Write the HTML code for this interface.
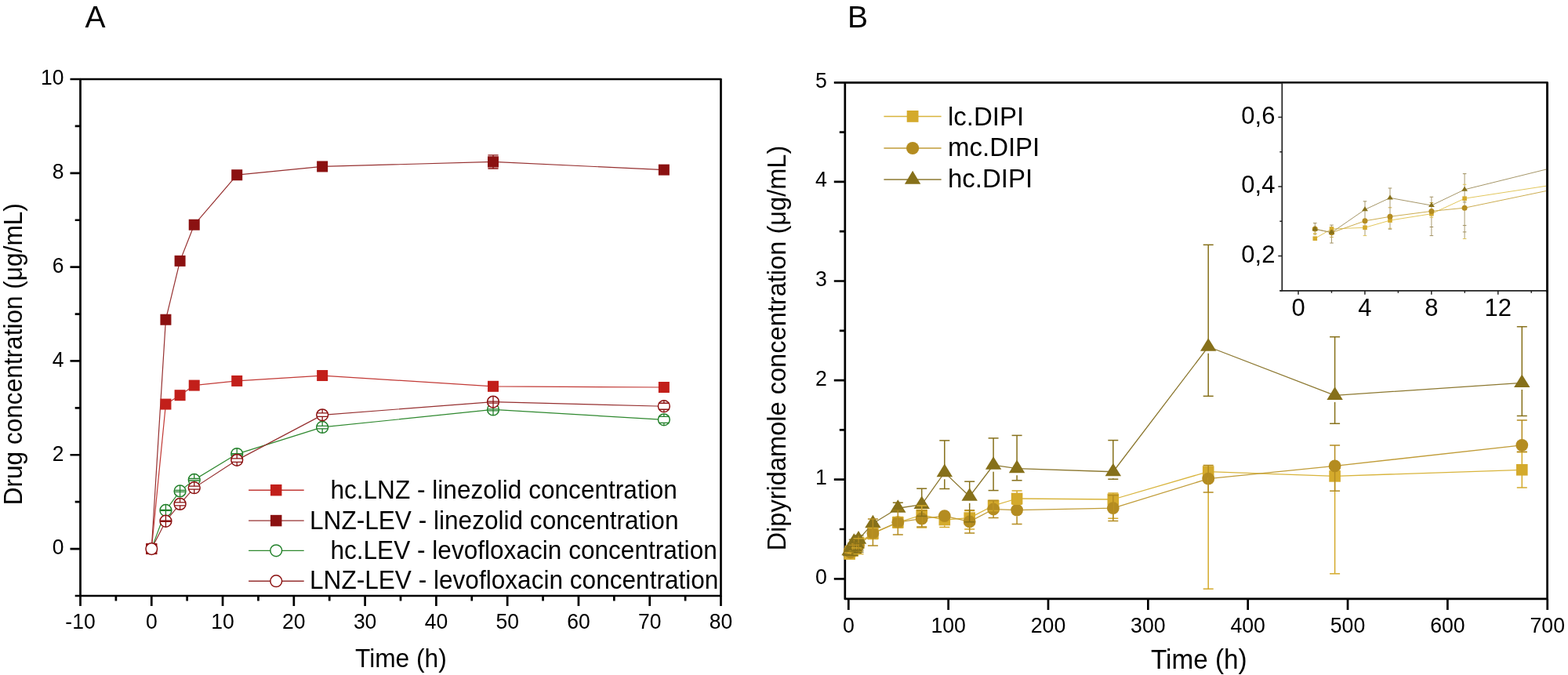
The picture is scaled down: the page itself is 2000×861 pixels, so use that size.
<!DOCTYPE html>
<html><head><meta charset="utf-8"><title>Drug concentration charts</title>
<style>
html,body{margin:0;padding:0;background:#fff;}
body{width:2000px;height:861px;overflow:hidden;}
svg{display:block;}
text{font-family:"Liberation Sans",Arial,Helvetica,sans-serif;fill:#000;}
</style></head><body>
<svg width="2000" height="861" viewBox="0 0 2000 861">
<rect width="2000" height="861" fill="#fff"/>
<path d="M102.5 760V773M147.89 760V766.5M193.28 760V773M238.67 760V766.5M284.06 760V773M329.44 760V766.5M374.83 760V773M420.22 760V766.5M465.61 760V773M511 760V766.5M556.39 760V773M601.78 760V766.5M647.17 760V773M692.56 760V766.5M737.94 760V773M783.33 760V766.5M828.72 760V773M874.11 760V766.5M919.5 760V773M102.5 760H95.7M102.5 700.09H89.5M102.5 640.18H95.7M102.5 580.27H89.5M102.5 520.36H95.7M102.5 460.45H89.5M102.5 400.55H95.7M102.5 340.64H89.5M102.5 280.73H95.7M102.5 220.82H89.5M102.5 160.91H95.7M102.5 101H89.5" stroke="#000" stroke-width="2.7" fill="none"/>
<rect x="102.5" y="101" width="817" height="659" fill="none" stroke="#000" stroke-linejoin="round" stroke-width="2.7"/>
<text transform="translate(102.5 801.5) scale(1 1.03)" font-size="26.5" text-anchor="middle">-10</text>
<text transform="translate(193.28 801.5) scale(1 1.03)" font-size="26.5" text-anchor="middle">0</text>
<text transform="translate(284.06 801.5) scale(1 1.03)" font-size="26.5" text-anchor="middle">10</text>
<text transform="translate(374.83 801.5) scale(1 1.03)" font-size="26.5" text-anchor="middle">20</text>
<text transform="translate(465.61 801.5) scale(1 1.03)" font-size="26.5" text-anchor="middle">30</text>
<text transform="translate(556.39 801.5) scale(1 1.03)" font-size="26.5" text-anchor="middle">40</text>
<text transform="translate(647.17 801.5) scale(1 1.03)" font-size="26.5" text-anchor="middle">50</text>
<text transform="translate(737.94 801.5) scale(1 1.03)" font-size="26.5" text-anchor="middle">60</text>
<text transform="translate(828.72 801.5) scale(1 1.03)" font-size="26.5" text-anchor="middle">70</text>
<text transform="translate(919.5 801.5) scale(1 1.03)" font-size="26.5" text-anchor="middle">80</text>
<text transform="translate(81.4 707.39) scale(1 1.03)" font-size="26.5" text-anchor="end">0</text>
<text transform="translate(81.4 587.57) scale(1 1.03)" font-size="26.5" text-anchor="end">2</text>
<text transform="translate(81.4 467.75) scale(1 1.03)" font-size="26.5" text-anchor="end">4</text>
<text transform="translate(81.4 347.94) scale(1 1.03)" font-size="26.5" text-anchor="end">6</text>
<text transform="translate(81.4 228.12) scale(1 1.03)" font-size="26.5" text-anchor="end">8</text>
<text transform="translate(81.4 108.3) scale(1 1.03)" font-size="26.5" text-anchor="end">10</text>
<text transform="translate(453 851.4) scale(1 1.03)" font-size="31.7">Time (h)</text>
<text transform="translate(27.9 644.3) rotate(-90) scale(1 1.03)" font-size="31.6">Drug concentration (μg/mL)</text>
<text transform="translate(108.5 34.8) scale(1 1.0)" font-size="39">A</text>
<polyline points="193.28,700.09 211.43,515.57 229.59,504.19 247.74,491.61 302.21,485.92 411.14,479.03 629.01,492.81 846.88,494" fill="none" stroke="#c23a36" stroke-width="1.2" stroke-linejoin="round"/>
<polyline points="193.28,700.09 211.43,407.73 229.59,332.85 247.74,286.72 302.21,223.21 411.14,212.43 629.01,206.44 846.88,216.62" fill="none" stroke="#963030" stroke-width="1.2" stroke-linejoin="round"/>
<polyline points="193.28,700.09 211.43,650.97 229.59,626.4 247.74,612.02 302.21,579.07 411.14,544.93 629.01,522.46 846.88,535.34" fill="none" stroke="#2e882e" stroke-width="1.2" stroke-linejoin="round"/>
<polyline points="193.28,700.09 211.43,664.74 229.59,642.88 247.74,622.21 302.21,586.86 411.14,529.35 629.01,512.58 846.88,518.27" fill="none" stroke="#963030" stroke-width="1.2" stroke-linejoin="round"/>
<rect x="186.28" y="693.09" width="14" height="14" fill="#c21f1a"/>
<rect x="204.43" y="508.57" width="14" height="14" fill="#c21f1a"/>
<rect x="222.59" y="497.19" width="14" height="14" fill="#c21f1a"/>
<rect x="240.74" y="484.61" width="14" height="14" fill="#c21f1a"/>
<rect x="295.21" y="478.92" width="14" height="14" fill="#c21f1a"/>
<rect x="404.14" y="472.03" width="14" height="14" fill="#c21f1a"/>
<rect x="622.01" y="485.81" width="14" height="14" fill="#c21f1a"/>
<rect x="839.88" y="487" width="14" height="14" fill="#c21f1a"/>
<rect x="186.28" y="693.09" width="14" height="14" fill="#8b1111"/>
<rect x="204.43" y="400.73" width="14" height="14" fill="#8b1111"/>
<rect x="222.59" y="325.85" width="14" height="14" fill="#8b1111"/>
<rect x="240.74" y="279.72" width="14" height="14" fill="#8b1111"/>
<rect x="295.21" y="216.21" width="14" height="14" fill="#8b1111"/>
<rect x="404.14" y="205.43" width="14" height="14" fill="#8b1111"/>
<rect x="622.01" y="199.44" width="14" height="14" fill="#8b1111"/>
<rect x="839.88" y="209.62" width="14" height="14" fill="#8b1111"/>
<path d="M629.01 197.84V215.04M622.41 197.84H635.61M622.41 215.04H635.61" stroke="#8b1111" stroke-width="1.4" fill="none"/>
<rect x="622.26" y="199.69" width="13.5" height="13.5" fill="#8b1111"/>
<circle cx="211.43" cy="650.97" r="7.4" fill="#fff" stroke="#22802a" stroke-width="1.5"/><path d="M211.43 643.57V658.37M204.43 650.47H218.43M204.43 651.47H218.43" stroke="#22802a" stroke-width="1.3" fill="none"/>
<circle cx="229.59" cy="626.4" r="7.4" fill="#fff" stroke="#22802a" stroke-width="1.5"/><path d="M229.59 619V633.8M222.59 625.4H236.59M222.59 627.4H236.59" stroke="#22802a" stroke-width="1.3" fill="none"/>
<circle cx="247.74" cy="612.02" r="7.4" fill="#fff" stroke="#22802a" stroke-width="1.5"/><path d="M247.74 604.62V610.52M247.74 613.02V619.42M240.74 610.52H254.74M240.74 613.02H254.74" stroke="#22802a" stroke-width="1.3" fill="none"/>
<circle cx="302.21" cy="579.07" r="7.4" fill="#fff" stroke="#22802a" stroke-width="1.5"/><path d="M302.21 571.67V586.47M295.21 578.57H309.21M295.21 580.07H309.21" stroke="#22802a" stroke-width="1.3" fill="none"/>
<circle cx="411.14" cy="544.93" r="7.4" fill="#fff" stroke="#22802a" stroke-width="1.5"/><path d="M411.14 537.53V543.43M411.14 546.93V552.33M404.14 543.43H418.14M404.14 546.93H418.14" stroke="#22802a" stroke-width="1.3" fill="none"/>
<circle cx="629.01" cy="522.46" r="7.4" fill="#fff" stroke="#22802a" stroke-width="1.5"/><path d="M629.01 515.06V529.86M622.01 521.96H636.01M622.01 523.96H636.01" stroke="#22802a" stroke-width="1.3" fill="none"/>
<circle cx="846.88" cy="535.34" r="7.4" fill="#fff" stroke="#22802a" stroke-width="1.5"/><path d="M846.88 527.94V531.34M846.88 539.34V542.74M839.88 531.34H853.88M839.88 539.34H853.88" stroke="#22802a" stroke-width="1.3" fill="none"/>
<circle cx="193.28" cy="700.09" r="7.3" fill="#fff" stroke="#8b1111" stroke-width="1.5"/>
<circle cx="211.43" cy="664.74" r="7.4" fill="#fff" stroke="#8b1111" stroke-width="1.5"/><path d="M211.43 657.34V672.14M204.43 664.24H218.43M204.43 665.24H218.43" stroke="#8b1111" stroke-width="1.3" fill="none"/>
<circle cx="229.59" cy="642.88" r="7.4" fill="#fff" stroke="#8b1111" stroke-width="1.5"/><path d="M229.59 635.48V640.88M229.59 644.88V650.28M222.59 640.88H236.59M222.59 644.88H236.59" stroke="#8b1111" stroke-width="1.3" fill="none"/>
<circle cx="247.74" cy="622.21" r="7.4" fill="#fff" stroke="#8b1111" stroke-width="1.5"/><path d="M247.74 614.81V620.21M247.74 624.21V629.61M240.74 620.21H254.74M240.74 624.21H254.74" stroke="#8b1111" stroke-width="1.3" fill="none"/>
<circle cx="302.21" cy="586.86" r="7.4" fill="#fff" stroke="#8b1111" stroke-width="1.5"/><path d="M302.21 579.46V584.86M302.21 589.36V594.26M295.21 584.86H309.21M295.21 589.36H309.21" stroke="#8b1111" stroke-width="1.3" fill="none"/>
<circle cx="411.14" cy="529.35" r="7.4" fill="#fff" stroke="#8b1111" stroke-width="1.5"/><path d="M411.14 521.95V526.85M411.14 531.35V536.75M404.14 526.85H418.14M404.14 531.35H418.14" stroke="#8b1111" stroke-width="1.3" fill="none"/>
<circle cx="629.01" cy="512.58" r="7.4" fill="#fff" stroke="#8b1111" stroke-width="1.5"/><path d="M629.01 505.18V519.98M622.01 512.08H636.01M622.01 514.08H636.01" stroke="#8b1111" stroke-width="1.3" fill="none"/>
<circle cx="846.88" cy="518.27" r="7.4" fill="#fff" stroke="#8b1111" stroke-width="1.5"/><path d="M846.88 510.87V514.27M846.88 522.27V525.67M839.88 514.27H853.88M839.88 522.27H853.88" stroke="#8b1111" stroke-width="1.3" fill="none"/>
<path d="M317.1 625.2H387.7" stroke="#c23a36" stroke-width="1.35"/>
<path d="M317.1 664.1H387.7" stroke="#963030" stroke-width="1.35"/>
<path d="M317.1 702.3H387.7" stroke="#2e882e" stroke-width="1.35"/>
<path d="M317.1 741.2H387.7" stroke="#963030" stroke-width="1.35"/>
<rect x="344.95" y="617.95" width="14.5" height="14.5" fill="#c21f1a"/>
<rect x="344.95" y="656.85" width="14.5" height="14.5" fill="#8b1111"/>
<circle cx="352.2" cy="702.3" r="7.4" fill="#fff" stroke="#22802a" stroke-width="1.5"/>
<circle cx="352.2" cy="741.2" r="7.4" fill="#fff" stroke="#8b1111" stroke-width="1.5"/>
<text transform="translate(421.42 635.8) scale(1 1.03)" font-size="31.6">hc.LNZ - linezolid concentration</text>
<text transform="translate(395.01 674.5) scale(1 1.03)" font-size="31.6">LNZ-LEV - linezolid concentration</text>
<text transform="translate(421.42 712.9) scale(1 1.03)" font-size="31.6">hc.LEV - levofloxacin concentration</text>
<text transform="translate(395.01 751.4) scale(1 1.03)" font-size="31.6">LNZ-LEV - levofloxacin concentration</text>
<path d="M1082.3 763.9V777.9M1209.65 763.9V777.9M1337 763.9V777.9M1464.35 763.9V777.9M1591.7 763.9V777.9M1719.05 763.9V777.9M1846.4 763.9V777.9M1973.75 763.9V777.9M1077.8 738.3H1063.8M1077.8 675H1070.8M1077.8 611.7H1063.8M1077.8 548.4H1070.8M1077.8 485.1H1063.8M1077.8 421.8H1070.8M1077.8 358.5H1063.8M1077.8 295.2H1070.8M1077.8 231.9H1063.8M1077.8 168.6H1070.8M1077.8 105.3H1063.8" stroke="#000" stroke-width="2.7" fill="none"/>
<rect x="1077.8" y="105.3" width="895.8" height="658.6" fill="none" stroke="#000" stroke-linejoin="round" stroke-width="2.7"/>
<text transform="translate(1082.3 807.2) scale(1 1.03)" font-size="26.7" text-anchor="middle">0</text>
<text transform="translate(1209.65 807.2) scale(1 1.03)" font-size="26.7" text-anchor="middle">100</text>
<text transform="translate(1337 807.2) scale(1 1.03)" font-size="26.7" text-anchor="middle">200</text>
<text transform="translate(1464.35 807.2) scale(1 1.03)" font-size="26.7" text-anchor="middle">300</text>
<text transform="translate(1591.7 807.2) scale(1 1.03)" font-size="26.7" text-anchor="middle">400</text>
<text transform="translate(1719.05 807.2) scale(1 1.03)" font-size="26.7" text-anchor="middle">500</text>
<text transform="translate(1846.4 807.2) scale(1 1.03)" font-size="26.7" text-anchor="middle">600</text>
<text transform="translate(1973.75 807.2) scale(1 1.03)" font-size="26.7" text-anchor="middle">700</text>
<text transform="translate(1054.8 744.7) scale(1 1.03)" font-size="26.7" text-anchor="end">0</text>
<text transform="translate(1054.8 618.1) scale(1 1.03)" font-size="26.7" text-anchor="end">1</text>
<text transform="translate(1054.8 491.5) scale(1 1.03)" font-size="26.7" text-anchor="end">2</text>
<text transform="translate(1054.8 364.9) scale(1 1.03)" font-size="26.7" text-anchor="end">3</text>
<text transform="translate(1054.8 238.3) scale(1 1.03)" font-size="26.7" text-anchor="end">4</text>
<text transform="translate(1054.8 111.7) scale(1 1.03)" font-size="26.7" text-anchor="end">5</text>
<text transform="translate(1468 852.6) scale(1 1.03)" font-size="33.3">Time (h)</text>
<text transform="translate(1002.4 702.5) rotate(-90) scale(1 1.03)" font-size="32.6">Dipyridamole concentration (μg/mL)</text>
<text transform="translate(1081 34.8) scale(1 1.0)" font-size="39">B</text>
<rect x="1635.3" y="106.7" width="336.9" height="264.1" fill="#fff"/>
<polyline points="1083.57,706.6 1084.85,703.1 1087.39,702.6 1089.3,700 1092.49,697.5 1095.03,692 1113.4,680.5 1145.3,666.4 1175.7,657 1204.8,663 1236.7,660.6 1267.1,645 1297.1,636 1419.8,637 1541.2,601.6 1702.6,607.4 1941.3,599.3" fill="none" stroke="#d8b43c" stroke-width="1.3" stroke-linejoin="round"/>
<rect x="1076.27" y="699.3" width="14.6" height="14.6" fill="#d4aa2c"/>
<rect x="1077.55" y="695.8" width="14.6" height="14.6" fill="#d4aa2c"/>
<rect x="1080.09" y="695.3" width="14.6" height="14.6" fill="#d4aa2c"/>
<rect x="1082" y="692.7" width="14.6" height="14.6" fill="#d4aa2c"/>
<rect x="1085.19" y="690.2" width="14.6" height="14.6" fill="#d4aa2c"/>
<rect x="1087.73" y="684.7" width="14.6" height="14.6" fill="#d4aa2c"/>
<rect x="1106.1" y="673.2" width="14.6" height="14.6" fill="#d4aa2c"/>
<rect x="1138" y="659.1" width="14.6" height="14.6" fill="#d4aa2c"/>
<rect x="1168.4" y="649.7" width="14.6" height="14.6" fill="#d4aa2c"/>
<rect x="1197.5" y="655.7" width="14.6" height="14.6" fill="#d4aa2c"/>
<rect x="1229.4" y="653.3" width="14.6" height="14.6" fill="#d4aa2c"/>
<rect x="1259.8" y="637.7" width="14.6" height="14.6" fill="#d4aa2c"/>
<rect x="1289.8" y="628.7" width="14.6" height="14.6" fill="#d4aa2c"/>
<rect x="1412.5" y="629.7" width="14.6" height="14.6" fill="#d4aa2c"/>
<rect x="1533.9" y="594.3" width="14.6" height="14.6" fill="#d4aa2c"/>
<rect x="1695.3" y="600.1" width="14.6" height="14.6" fill="#d4aa2c"/>
<rect x="1934" y="592" width="14.6" height="14.6" fill="#d4aa2c"/>
<polyline points="1083.57,703.1 1084.85,704.5 1087.39,700.2 1089.3,698.6 1092.49,696.6 1095.03,695.4 1113.4,680 1145.3,666.2 1175.7,661.6 1204.8,658.1 1236.7,665.4 1267.1,649.5 1297.1,650.6 1419.8,648.1 1541.2,610.7 1702.6,594.4 1941.3,567.8" fill="none" stroke="#c09c38" stroke-width="1.3" stroke-linejoin="round"/>
<circle cx="1083.57" cy="703.1" r="7.9" fill="#b48c20"/>
<circle cx="1084.85" cy="704.5" r="7.9" fill="#b48c20"/>
<circle cx="1087.39" cy="700.2" r="7.9" fill="#b48c20"/>
<circle cx="1089.3" cy="698.6" r="7.9" fill="#b48c20"/>
<circle cx="1092.49" cy="696.6" r="7.9" fill="#b48c20"/>
<circle cx="1095.03" cy="695.4" r="7.9" fill="#b48c20"/>
<circle cx="1113.4" cy="680" r="7.9" fill="#b48c20"/>
<circle cx="1145.3" cy="666.2" r="7.9" fill="#b48c20"/>
<circle cx="1175.7" cy="661.6" r="7.9" fill="#b48c20"/>
<circle cx="1204.8" cy="658.1" r="7.9" fill="#b48c20"/>
<circle cx="1236.7" cy="665.4" r="7.9" fill="#b48c20"/>
<circle cx="1267.1" cy="649.5" r="7.9" fill="#b48c20"/>
<circle cx="1297.1" cy="650.6" r="7.9" fill="#b48c20"/>
<circle cx="1419.8" cy="648.1" r="7.9" fill="#b48c20"/>
<circle cx="1541.2" cy="610.7" r="7.9" fill="#b48c20"/>
<circle cx="1702.6" cy="594.4" r="7.9" fill="#b48c20"/>
<circle cx="1941.3" cy="567.8" r="7.9" fill="#b48c20"/>
<polyline points="1083.57,702.6 1084.85,703.8 1087.39,695.4 1089.3,691.2 1092.49,694 1095.03,688.1 1113.4,667.75 1145.3,648.25 1175.7,643.55 1204.8,602.65 1236.7,633.25 1267.1,593.25 1297.1,597.65 1419.8,601.75 1541.2,442.25 1702.6,504.35 1941.3,488.45" fill="none" stroke="#8c7830" stroke-width="1.3" stroke-linejoin="round"/>
<path d="M1083.57 691.53L1093.77 708.13L1073.37 708.13Z" fill="#86701a"/>
<path d="M1084.85 692.73L1095.05 709.33L1074.65 709.33Z" fill="#86701a"/>
<path d="M1087.39 684.33L1097.59 700.93L1077.19 700.93Z" fill="#86701a"/>
<path d="M1089.3 680.13L1099.5 696.73L1079.1 696.73Z" fill="#86701a"/>
<path d="M1092.49 682.93L1102.69 699.53L1082.29 699.53Z" fill="#86701a"/>
<path d="M1095.03 677.03L1105.23 693.63L1084.83 693.63Z" fill="#86701a"/>
<path d="M1113.4 656.68L1123.6 673.28L1103.2 673.28Z" fill="#86701a"/>
<path d="M1145.3 637.18L1155.5 653.78L1135.1 653.78Z" fill="#86701a"/>
<path d="M1175.7 632.48L1185.9 649.08L1165.5 649.08Z" fill="#86701a"/>
<path d="M1204.8 591.58L1215 608.18L1194.6 608.18Z" fill="#86701a"/>
<path d="M1236.7 622.18L1246.9 638.78L1226.5 638.78Z" fill="#86701a"/>
<path d="M1267.1 582.18L1277.3 598.78L1256.9 598.78Z" fill="#86701a"/>
<path d="M1297.1 586.58L1307.3 603.18L1286.9 603.18Z" fill="#86701a"/>
<path d="M1419.8 590.68L1430 607.28L1409.6 607.28Z" fill="#86701a"/>
<path d="M1541.2 431.18L1551.4 447.78L1531 447.78Z" fill="#86701a"/>
<path d="M1702.6 493.28L1712.8 509.88L1692.4 509.88Z" fill="#86701a"/>
<path d="M1941.3 477.38L1951.5 493.98L1931.1 493.98Z" fill="#86701a"/>
<path d="M1083.57 700.98V705.38" stroke="#b48c20" stroke-width="1.3"/>
<path d="M1077.07 700.98H1090.07" stroke="#86701a" stroke-width="1.3"/>
<path d="M1077.07 704.67H1090.07" stroke="#d4aa2c" stroke-width="1.3"/>
<path d="M1077.07 705.07H1090.07" stroke="#b48c20" stroke-width="1.3"/>
<path d="M1084.85 701.69V708.25" stroke="#b48c20" stroke-width="1.3"/>
<path d="M1078.35 701.69H1091.35" stroke="#86701a" stroke-width="1.3"/>
<path d="M1078.35 706.07H1091.35" stroke="#b48c20" stroke-width="1.3"/>
<path d="M1078.35 708.25H1091.35" stroke="#86701a" stroke-width="1.3"/>
<path d="M1087.39 693.02V705.56" stroke="#b48c20" stroke-width="1.3"/>
<path d="M1080.89 693.02H1093.89" stroke="#86701a" stroke-width="1.3"/>
<path d="M1080.89 705.56H1093.89" stroke="#d4aa2c" stroke-width="1.3"/>
<path d="M1089.3 688.22V703.15" stroke="#b48c20" stroke-width="1.3"/>
<path d="M1082.8 688.22H1095.8" stroke="#86701a" stroke-width="1.3"/>
<path d="M1082.8 695.31H1095.8" stroke="#b48c20" stroke-width="1.3"/>
<path d="M1082.8 702.87H1095.8" stroke="#d4aa2c" stroke-width="1.3"/>
<path d="M1082.8 703.15H1095.8" stroke="#86701a" stroke-width="1.3"/>
<path d="M1092.49 691.42V705.56" stroke="#b48c20" stroke-width="1.3"/>
<path d="M1085.99 691.42H1098.99" stroke="#86701a" stroke-width="1.3"/>
<path d="M1085.99 693.51H1098.99" stroke="#b48c20" stroke-width="1.3"/>
<path d="M1085.99 698.89H1098.99" stroke="#d4aa2c" stroke-width="1.3"/>
<path d="M1085.99 702.38H1098.99" stroke="#86701a" stroke-width="1.3"/>
<path d="M1085.99 705.56H1098.99" stroke="#86701a" stroke-width="1.3"/>
<path d="M1095.03 682.95V706.7" stroke="#b48c20" stroke-width="1.3"/>
<path d="M1088.53 682.95H1101.53" stroke="#86701a" stroke-width="1.3"/>
<path d="M1088.53 686.87H1101.53" stroke="#d4aa2c" stroke-width="1.3"/>
<path d="M1088.53 693.31H1101.53" stroke="#86701a" stroke-width="1.3"/>
<path d="M1088.53 701.84H1101.53" stroke="#86701a" stroke-width="1.3"/>
<path d="M1088.53 704.21H1101.53" stroke="#86701a" stroke-width="1.3"/>
<path d="M1088.53 706.7H1101.53" stroke="#d4aa2c" stroke-width="1.3"/>
<path d="M1113.4 673.5V687.5M1106.9 673.5H1119.9M1106.9 687.5H1119.9" stroke="#d4aa2c" stroke-width="1.5" fill="none"/>
<path d="M1145.3 659.5V673.3M1138.8 659.5H1151.8M1138.8 673.3H1151.8" stroke="#d4aa2c" stroke-width="1.5" fill="none"/>
<path d="M1175.7 645V673M1169.2 645H1182.2M1169.2 673H1182.2" stroke="#d4aa2c" stroke-width="1.5" fill="none"/>
<path d="M1204.8 670.3V672.5" stroke="#d4aa2c" stroke-width="1.5"/>
<path d="M1198.3 672.5H1211.3" stroke="#d4aa2c" stroke-width="1.5"/>
<path d="M1236.7 651.6V674.9M1230.2 651.6H1243.2M1230.2 674.9H1243.2" stroke="#d4aa2c" stroke-width="1.5" fill="none"/>
<path d="M1267.1 638.6V651.4M1260.6 638.6H1273.6M1260.6 651.4H1273.6" stroke="#d4aa2c" stroke-width="1.5" fill="none"/>
<path d="M1297.1 625.9V643.3M1290.6 625.9H1303.6M1290.6 643.3H1303.6" stroke="#d4aa2c" stroke-width="1.5" fill="none"/>
<path d="M1419.8 629.1V661.3M1413.3 629.1H1426.3M1413.3 661.3H1426.3" stroke="#d4aa2c" stroke-width="1.5" fill="none"/>
<path d="M1541.2 608.9V751.2" stroke="#d4aa2c" stroke-width="1.5"/>
<path d="M1534.7 751.2H1547.7" stroke="#d4aa2c" stroke-width="1.5"/>
<path d="M1702.6 614.7V731.8" stroke="#d4aa2c" stroke-width="1.5"/>
<path d="M1696.1 731.8H1709.1" stroke="#d4aa2c" stroke-width="1.5"/>
<path d="M1941.3 576.7V621.9M1934.8 576.7H1947.8M1934.8 621.9H1947.8" stroke="#d4aa2c" stroke-width="1.5" fill="none"/>
<path d="M1113.4 662V696M1106.9 662H1119.9M1106.9 696H1119.9" stroke="#b48c20" stroke-width="1.5" fill="none"/>
<path d="M1145.3 650.4V682M1138.8 650.4H1151.8M1138.8 682H1151.8" stroke="#b48c20" stroke-width="1.5" fill="none"/>
<path d="M1175.7 651.2V672M1169.2 651.2H1182.2M1169.2 672H1182.2" stroke="#b48c20" stroke-width="1.5" fill="none"/>
<path d="M1236.7 650.7V680.1M1230.2 650.7H1243.2M1230.2 680.1H1243.2" stroke="#b48c20" stroke-width="1.5" fill="none"/>
<path d="M1267.1 638.5V660.6M1260.6 638.5H1273.6M1260.6 660.6H1273.6" stroke="#b48c20" stroke-width="1.5" fill="none"/>
<path d="M1297.1 658.5V668.5" stroke="#b48c20" stroke-width="1.5"/>
<path d="M1290.6 668.5H1303.6" stroke="#b48c20" stroke-width="1.5"/>
<path d="M1419.8 631.8V664.4M1413.3 631.8H1426.3M1413.3 664.4H1426.3" stroke="#b48c20" stroke-width="1.5" fill="none"/>
<path d="M1541.2 593.5V627.9M1534.7 593.5H1547.7M1534.7 627.9H1547.7" stroke="#b48c20" stroke-width="1.5" fill="none"/>
<path d="M1702.6 567.9V626.3M1696.1 567.9H1709.1M1696.1 626.3H1709.1" stroke="#b48c20" stroke-width="1.5" fill="none"/>
<path d="M1941.3 536V576.2M1934.8 536H1947.8M1934.8 576.2H1947.8" stroke="#b48c20" stroke-width="1.5" fill="none"/>
<path d="M1138.8 641.2H1151.8" stroke="#86701a" stroke-width="1.5"/>
<path d="M1138.8 649.8H1151.8" stroke="#86701a" stroke-width="1.5"/>
<path d="M1145.3 641.2V639.18" stroke="#86701a" stroke-width="1.5"/>
<path d="M1169.2 623.2H1182.2" stroke="#86701a" stroke-width="1.5"/>
<path d="M1169.2 658.4H1182.2" stroke="#86701a" stroke-width="1.5"/>
<path d="M1175.7 623.2V634.48" stroke="#86701a" stroke-width="1.5"/>
<path d="M1175.7 652.08V658.4" stroke="#86701a" stroke-width="1.5"/>
<path d="M1198.3 561.9H1211.3" stroke="#86701a" stroke-width="1.5"/>
<path d="M1198.3 623.5H1211.3" stroke="#86701a" stroke-width="1.5"/>
<path d="M1204.8 561.9V593.58" stroke="#86701a" stroke-width="1.5"/>
<path d="M1204.8 611.18V623.5" stroke="#86701a" stroke-width="1.5"/>
<path d="M1230.2 614.2H1243.2" stroke="#86701a" stroke-width="1.5"/>
<path d="M1230.2 665.8H1243.2" stroke="#86701a" stroke-width="1.5"/>
<path d="M1236.7 614.2V624.18" stroke="#86701a" stroke-width="1.5"/>
<path d="M1236.7 641.78V665.8" stroke="#86701a" stroke-width="1.5"/>
<path d="M1260.6 558.9H1273.6" stroke="#86701a" stroke-width="1.5"/>
<path d="M1260.6 625.6H1273.6" stroke="#86701a" stroke-width="1.5"/>
<path d="M1267.1 558.9V584.18" stroke="#86701a" stroke-width="1.5"/>
<path d="M1267.1 601.78V625.6" stroke="#86701a" stroke-width="1.5"/>
<path d="M1290.6 555.4H1303.6" stroke="#86701a" stroke-width="1.5"/>
<path d="M1290.6 612.8H1303.6" stroke="#86701a" stroke-width="1.5"/>
<path d="M1297.1 555.4V588.58" stroke="#86701a" stroke-width="1.5"/>
<path d="M1297.1 606.18V612.8" stroke="#86701a" stroke-width="1.5"/>
<path d="M1413.3 561.6H1426.3" stroke="#86701a" stroke-width="1.5"/>
<path d="M1413.3 611.2H1426.3" stroke="#86701a" stroke-width="1.5"/>
<path d="M1419.8 561.6V592.68" stroke="#86701a" stroke-width="1.5"/>
<path d="M1419.8 610.28V611.2" stroke="#86701a" stroke-width="1.5"/>
<path d="M1534.7 312.3H1547.7" stroke="#86701a" stroke-width="1.5"/>
<path d="M1534.7 505.3H1547.7" stroke="#86701a" stroke-width="1.5"/>
<path d="M1541.2 312.3V433.18" stroke="#86701a" stroke-width="1.5"/>
<path d="M1541.2 450.78V505.3" stroke="#86701a" stroke-width="1.5"/>
<path d="M1696.1 429.7H1709.1" stroke="#86701a" stroke-width="1.5"/>
<path d="M1696.1 540.3H1709.1" stroke="#86701a" stroke-width="1.5"/>
<path d="M1702.6 429.7V495.28" stroke="#86701a" stroke-width="1.5"/>
<path d="M1702.6 512.88V540.3" stroke="#86701a" stroke-width="1.5"/>
<path d="M1934.8 416.7H1947.8" stroke="#86701a" stroke-width="1.5"/>
<path d="M1934.8 530.5H1947.8" stroke="#86701a" stroke-width="1.5"/>
<path d="M1941.3 416.7V479.38" stroke="#86701a" stroke-width="1.5"/>
<path d="M1941.3 496.98V530.5" stroke="#86701a" stroke-width="1.5"/>
<path d="M1656 370.8V375.8M1698.46 370.8V373.8M1740.92 370.8V375.8M1783.38 370.8V373.8M1825.84 370.8V375.8M1868.3 370.8V373.8M1910.76 370.8V375.8M1953.22 370.8V373.8M1635.3 370.8H1632.3M1635.3 326.55H1630.3M1635.3 282.3H1632.3M1635.3 238.05H1630.3M1635.3 193.8H1632.3M1635.3 149.55H1630.3M1635.3 105.3H1632.3" stroke="#222" stroke-width="1.5" fill="none"/>
<path d="M1635.3 105.3V370.8H1973.6" stroke="#222" stroke-width="1.7" fill="none"/>
<path d="M1632.3 370.8H1635.3" stroke="#222" stroke-width="1.7" fill="none"/>
<text transform="translate(1656 403.3) scale(1 1.03)" font-size="31" text-anchor="middle">0</text>
<text transform="translate(1740.92 403.3) scale(1 1.03)" font-size="31" text-anchor="middle">4</text>
<text transform="translate(1825.84 403.3) scale(1 1.03)" font-size="31" text-anchor="middle">8</text>
<text transform="translate(1910.76 403.3) scale(1 1.03)" font-size="31" text-anchor="middle">12</text>
<text transform="translate(1626.4 334.65) scale(1 1.03)" font-size="31" text-anchor="end">0,2</text>
<text transform="translate(1626.4 246.15) scale(1 1.03)" font-size="31" text-anchor="end">0,4</text>
<text transform="translate(1626.4 157.65) scale(1 1.03)" font-size="31" text-anchor="end">0,6</text>
<path d="M1677.3 284.6V300" stroke="#a09060" stroke-width="0.9"/>
<path d="M1675 284.6H1679.6" stroke="#a09060" stroke-width="1.0"/>
<path d="M1675 297.5H1679.6" stroke="#e0c454" stroke-width="1.0"/>
<path d="M1675 298.9H1679.6" stroke="#c8a848" stroke-width="1.0"/>
<path d="M1698.5 287.1V310" stroke="#a09060" stroke-width="0.9"/>
<path d="M1696.2 287.1H1700.8" stroke="#a09060" stroke-width="1.0"/>
<path d="M1696.2 302.4H1700.8" stroke="#c8a848" stroke-width="1.0"/>
<path d="M1696.2 310H1700.8" stroke="#a09060" stroke-width="1.0"/>
<path d="M1741 256.8V300.6" stroke="#a09060" stroke-width="0.9"/>
<path d="M1738.7 256.8H1743.3" stroke="#a09060" stroke-width="1.0"/>
<path d="M1738.7 300.6H1743.3" stroke="#e0c454" stroke-width="1.0"/>
<path d="M1773 240V292.2" stroke="#a09060" stroke-width="0.9"/>
<path d="M1770.7 240H1775.3" stroke="#a09060" stroke-width="1.0"/>
<path d="M1770.7 264.8H1775.3" stroke="#c8a848" stroke-width="1.0"/>
<path d="M1770.7 291.2H1775.3" stroke="#e0c454" stroke-width="1.0"/>
<path d="M1770.7 292.2H1775.3" stroke="#a09060" stroke-width="1.0"/>
<path d="M1825.9 251.2V300.6" stroke="#a09060" stroke-width="0.9"/>
<path d="M1823.6 251.2H1828.2" stroke="#a09060" stroke-width="1.0"/>
<path d="M1823.6 258.5H1828.2" stroke="#c8a848" stroke-width="1.0"/>
<path d="M1823.6 277.3H1828.2" stroke="#e0c454" stroke-width="1.0"/>
<path d="M1823.6 289.5H1828.2" stroke="#a09060" stroke-width="1.0"/>
<path d="M1823.6 300.6H1828.2" stroke="#a09060" stroke-width="1.0"/>
<path d="M1868.1 221.6V304.6" stroke="#a09060" stroke-width="0.9"/>
<path d="M1865.8 221.6H1870.4" stroke="#a09060" stroke-width="1.0"/>
<path d="M1865.8 235.3H1870.4" stroke="#e0c454" stroke-width="1.0"/>
<path d="M1865.8 257.8H1870.4" stroke="#a09060" stroke-width="1.0"/>
<path d="M1865.8 287.6H1870.4" stroke="#a09060" stroke-width="1.0"/>
<path d="M1865.8 295.9H1870.4" stroke="#a09060" stroke-width="1.0"/>
<path d="M1865.8 304.6H1870.4" stroke="#e0c454" stroke-width="1.0"/>
<polyline points="1677.3,304.2 1698.5,292 1741,290.3 1773,281.1 1825.9,272.7 1868.1,253.2 1972.3,237.2" fill="none" stroke="#e0c454" stroke-width="0.95" stroke-linejoin="round"/>
<rect x="1674.5" y="301.4" width="5.6" height="5.6" fill="#d4aa2c"/>
<rect x="1695.7" y="289.2" width="5.6" height="5.6" fill="#d4aa2c"/>
<rect x="1738.2" y="287.5" width="5.6" height="5.6" fill="#d4aa2c"/>
<rect x="1770.2" y="278.3" width="5.6" height="5.6" fill="#d4aa2c"/>
<rect x="1823.1" y="269.9" width="5.6" height="5.6" fill="#d4aa2c"/>
<rect x="1865.3" y="250.4" width="5.6" height="5.6" fill="#d4aa2c"/>
<polyline points="1677.3,292 1698.5,296.8 1741,281.8 1773,276.3 1825.9,269.4 1868.1,265.2 1972.3,243.5" fill="none" stroke="#c8a848" stroke-width="0.95" stroke-linejoin="round"/>
<circle cx="1677.3" cy="292" r="3.5" fill="#b48c20"/>
<circle cx="1698.5" cy="296.8" r="3.5" fill="#b48c20"/>
<circle cx="1741" cy="281.8" r="3.5" fill="#b48c20"/>
<circle cx="1773" cy="276.3" r="3.5" fill="#b48c20"/>
<circle cx="1825.9" cy="269.4" r="3.5" fill="#b48c20"/>
<circle cx="1868.1" cy="265.2" r="3.5" fill="#b48c20"/>
<polyline points="1677.3,292.2 1698.5,296.6 1741,267.3 1773,252.4 1825.9,262 1868.1,241.8 1972.3,216" fill="none" stroke="#a09060" stroke-width="0.95" stroke-linejoin="round"/>
<path d="M1677.3 288.2L1681.2 294.2L1673.4 294.2Z" fill="#86701a"/>
<path d="M1698.5 292.6L1702.4 298.6L1694.6 298.6Z" fill="#86701a"/>
<path d="M1741 263.3L1744.9 269.3L1737.1 269.3Z" fill="#86701a"/>
<path d="M1773 248.4L1776.9 254.4L1769.1 254.4Z" fill="#86701a"/>
<path d="M1825.9 258L1829.8 264L1822 264Z" fill="#86701a"/>
<path d="M1868.1 237.8L1872 243.8L1864.2 243.8Z" fill="#86701a"/>
<path d="M1973.6 105.3V372.8" stroke="#000" stroke-width="2.7"/>
<path d="M1127.4 148.4H1200.6" stroke="#d8b43c" stroke-width="1.5"/>
<path d="M1127.4 189H1200.6" stroke="#c09c38" stroke-width="1.5"/>
<path d="M1127.4 229H1200.6" stroke="#8c7830" stroke-width="1.5"/>
<rect x="1156.7" y="141" width="14.8" height="14.8" fill="#d4aa2c"/>
<circle cx="1164.1" cy="189" r="8.1" fill="#b48c20"/>
<path d="M1164.1 217.8L1174.3 234.8L1153.9 234.8Z" fill="#86701a"/>
<text transform="translate(1208.99 159.6) scale(1 1.03)" font-size="33.0">lc.DIPI</text>
<text transform="translate(1208.99 199.3) scale(1 1.03)" font-size="33.0">mc.DIPI</text>
<text transform="translate(1208.99 239.3) scale(1 1.03)" font-size="33.0">hc.DIPI</text>
</svg>
</body></html>
